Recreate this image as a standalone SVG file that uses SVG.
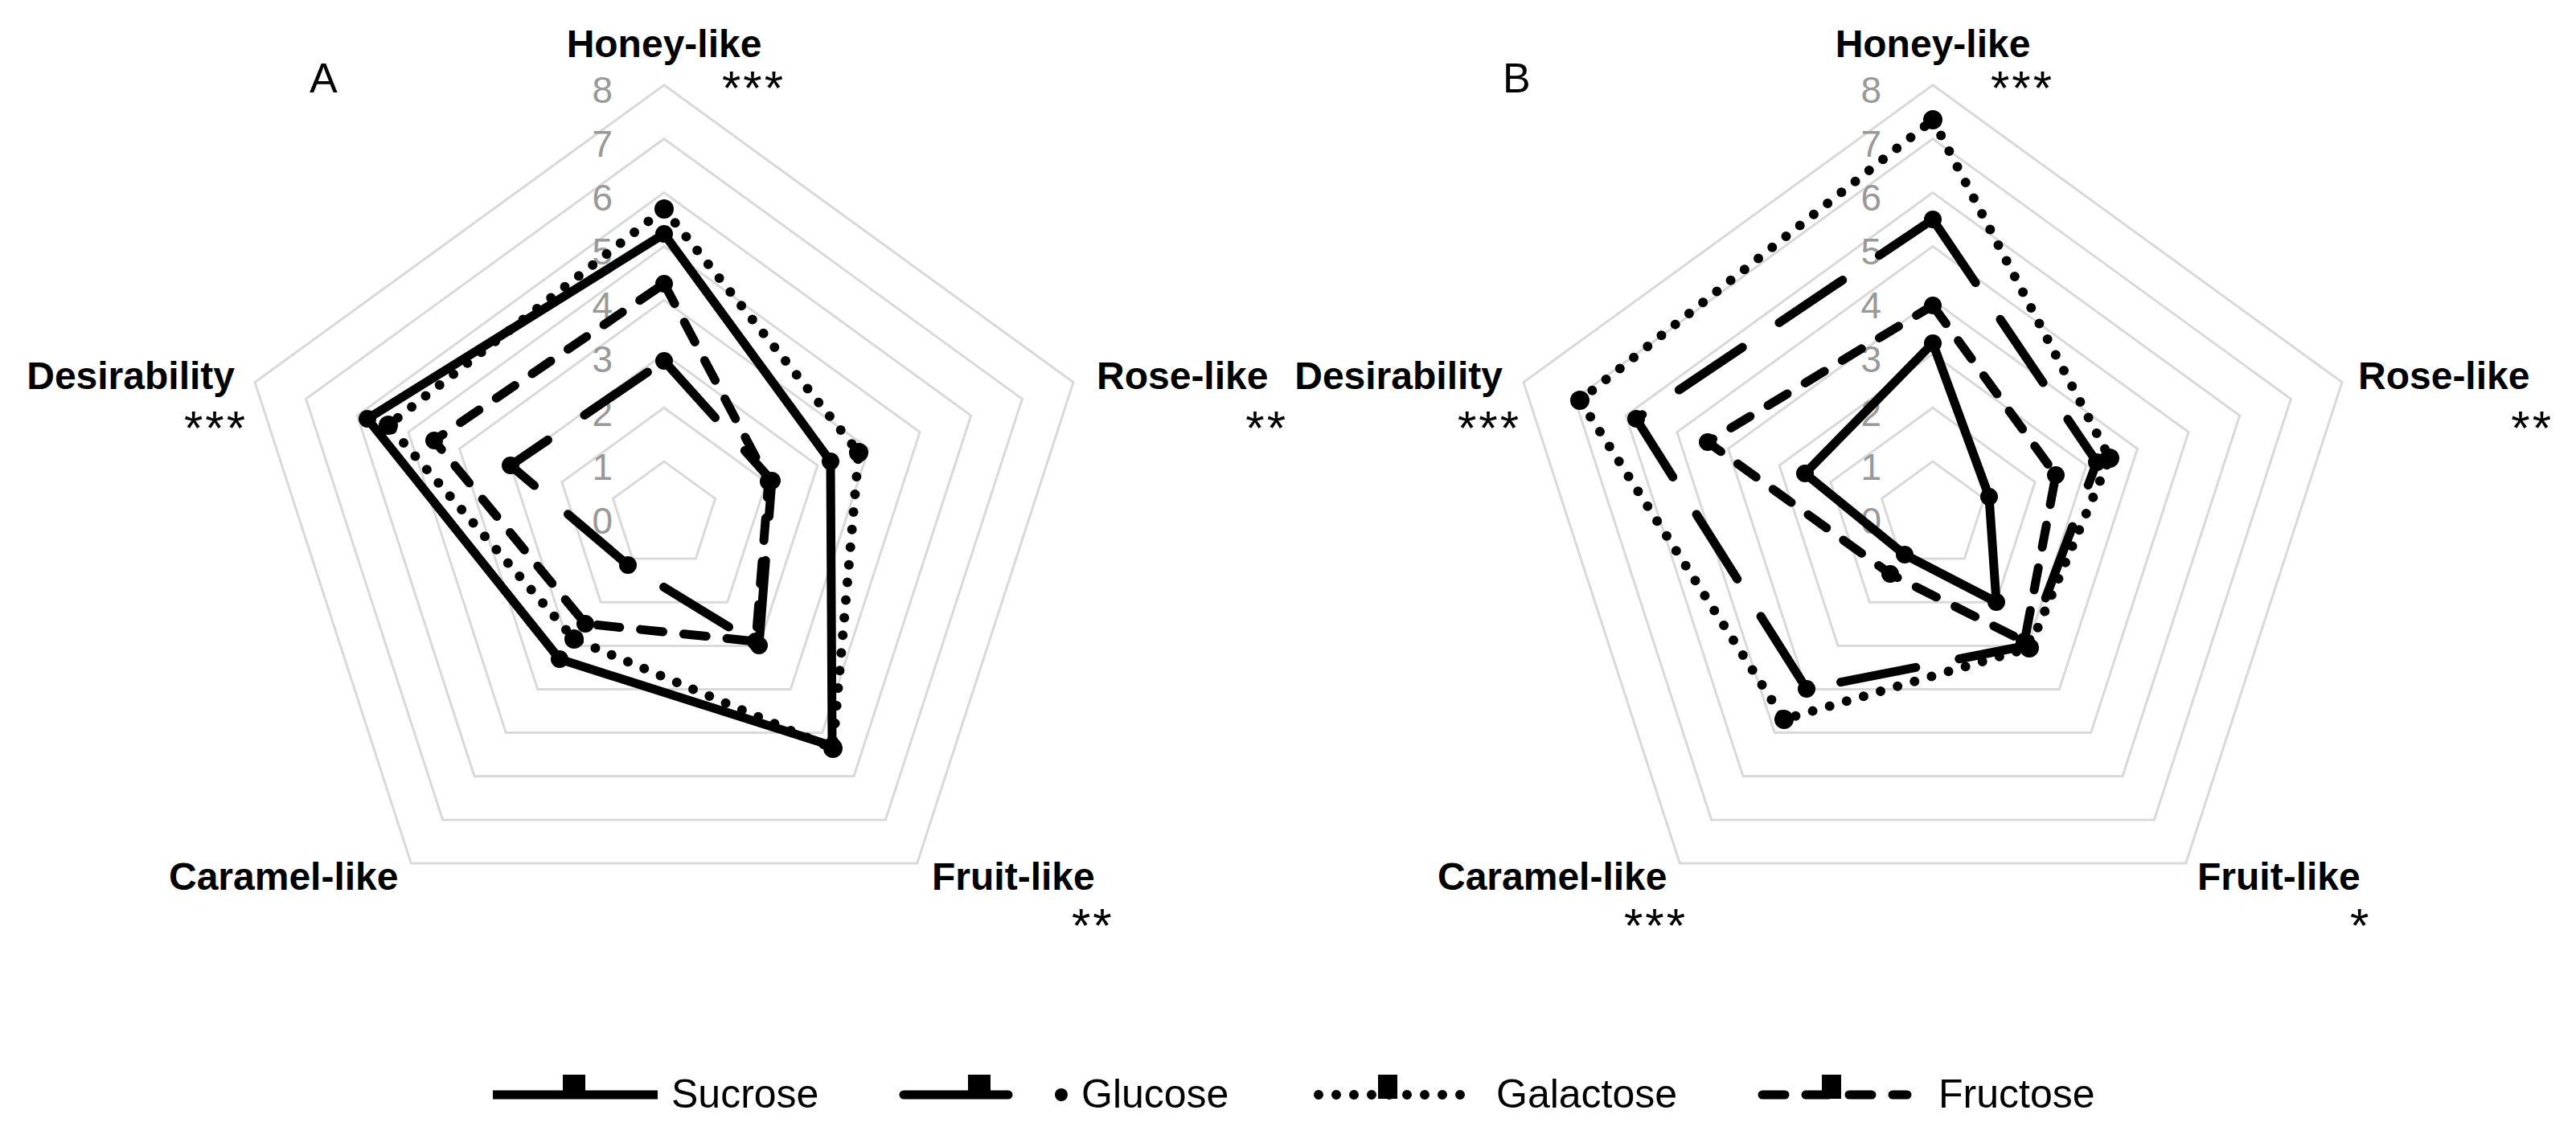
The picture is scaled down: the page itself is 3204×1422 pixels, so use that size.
<svg xmlns="http://www.w3.org/2000/svg" xmlns:xlink="http://www.w3.org/1999/xlink" width="3204" height="1422" viewBox="0 0 3204 1422">
<style>
.ring{fill:none;stroke:#d9d9d9;stroke-width:3}
.ax{font-family:"Liberation Sans",Arial,sans-serif;font-weight:bold;font-size:48px;fill:#000}
.st{font-family:"Liberation Sans",Arial,sans-serif;font-size:60px;fill:#000;letter-spacing:3px}
.sc{font-family:"Liberation Sans",Arial,sans-serif;font-size:46px;fill:#999;text-anchor:end}
.pl{font-family:"Liberation Sans",Arial,sans-serif;font-size:52px;fill:#000}
.lg{font-family:"Liberation Sans",Arial,sans-serif;font-size:50px;fill:#000}
.s{fill:none;stroke:#000;stroke-width:11;stroke-linejoin:round}
.suc{}
.glu{stroke-dasharray:95 55;stroke-linecap:round}
.gal{stroke-dasharray:0 22;stroke-linecap:round;stroke-width:12}
.fru{stroke-dasharray:28 26;stroke-linecap:round}
.m{fill:#000}
</style>
<defs>
<g id="rings">
<polygon class="ring" points="0,-66.9 63.6,-20.7 39.3,54.1 -39.3,54.1 -63.6,-20.7"/>
<polygon class="ring" points="0,-133.8 127.2,-41.3 78.7,108.2 -78.7,108.2 -127.2,-41.3"/>
<polygon class="ring" points="0,-200.7 190.9,-62 118,162.4 -118,162.4 -190.9,-62"/>
<polygon class="ring" points="0,-267.6 254.5,-82.7 157.3,216.5 -157.3,216.5 -254.5,-82.7"/>
<polygon class="ring" points="0,-334.5 318.1,-103.4 196.7,270.6 -196.7,270.6 -318.1,-103.4"/>
<polygon class="ring" points="0,-401.4 381.7,-124 236,324.7 -236,324.7 -381.7,-124"/>
<polygon class="ring" points="0,-468.3 445.4,-144.7 275.4,378.9 -275.4,378.9 -445.4,-144.7"/>
<polygon class="ring" points="0,-535.2 509,-165.4 314.7,433 -314.7,433 -509,-165.4"/>
</g>
<g id="scale">
<text class="sc" x="-64" y="-513">8</text>
<text class="sc" x="-64" y="-446">7</text>
<text class="sc" x="-64" y="-379">6</text>
<text class="sc" x="-64" y="-312">5</text>
<text class="sc" x="-64" y="-245">4</text>
<text class="sc" x="-64" y="-178">3</text>
<text class="sc" x="-64" y="-111">2</text>
<text class="sc" x="-64" y="-44">1</text>
<text class="sc" x="-64" y="23">0</text>
</g>
</defs>

<g id="chartA" transform="translate(826,641)">
<use xlink:href="#rings"/>
<use xlink:href="#scale"/>
</g>
<g id="chartB" transform="translate(2404,641)">
<use xlink:href="#rings"/>
<use xlink:href="#scale"/>
</g>

<g id="series">
<g transform="translate(826,641)">
<polygon class="s suc" points="0,-350 207,-67 209,287 -130,179 -369,-120"/>
<polygon class="s gal" points="0,-381 242,-78 210,290 -112,154 -343,-112"/>
<polygon class="s fru" points="0,-288 130,-42 114,157 -98,135 -286,-93"/>
<polygon class="s glu" points="0,-192 134,-43 118,162 -45,62 -191,-62"/>
<g class="m">
<circle cx="0" cy="-350" r="11"/><circle cx="207" cy="-67" r="11"/><circle cx="209" cy="287" r="11"/><circle cx="-130" cy="179" r="11"/><circle cx="-369" cy="-120" r="11"/>
<circle cx="0" cy="-381" r="12"/><circle cx="242" cy="-78" r="12"/><circle cx="210" cy="290" r="12"/><circle cx="-112" cy="154" r="12"/><circle cx="-343" cy="-112" r="12"/>
<circle cx="0" cy="-288" r="11"/><circle cx="130" cy="-42" r="11"/><circle cx="114" cy="157" r="11"/><circle cx="-98" cy="135" r="11"/><circle cx="-286" cy="-93" r="11"/>
<circle cx="0" cy="-192" r="11"/><circle cx="134" cy="-43" r="11"/><circle cx="118" cy="162" r="11"/><circle cx="-45" cy="62" r="11"/><circle cx="-191" cy="-62" r="11"/>
</g>
</g>
<g transform="translate(2404,641)">
<polygon class="s suc" points="0,-214 70,-23 79,108 -35,49 -159,-52"/>
<polygon class="s gal" points="0,-492 220,-71 120,165 -185,254 -439,-143"/>
<polygon class="s glu" points="0,-368 204,-66 118,162 -157,216 -369,-120"/>
<polygon class="s fru" points="0,-261 153,-50 114,157 -53,73 -280,-91"/>
<g class="m">
<circle cx="0" cy="-214" r="11"/><circle cx="70" cy="-23" r="11"/><circle cx="79" cy="108" r="11"/><circle cx="-35" cy="49" r="11"/><circle cx="-159" cy="-52" r="11"/>
<circle cx="0" cy="-492" r="12"/><circle cx="220" cy="-71" r="12"/><circle cx="120" cy="165" r="12"/><circle cx="-185" cy="254" r="12"/><circle cx="-439" cy="-143" r="12"/>
<circle cx="0" cy="-368" r="11"/><circle cx="204" cy="-66" r="11"/><circle cx="118" cy="162" r="11"/><circle cx="-157" cy="216" r="11"/><circle cx="-369" cy="-120" r="11"/>
<circle cx="0" cy="-261" r="11"/><circle cx="153" cy="-50" r="11"/><circle cx="114" cy="157" r="11"/><circle cx="-53" cy="73" r="11"/><circle cx="-280" cy="-91" r="11"/>
</g>
</g>
</g>

<g id="labelsA">
<text class="pl" x="385" y="115">A</text>
<text class="ax" x="826" y="71" text-anchor="middle">Honey-like</text>
<text class="st" x="898" y="130">***</text>
<text class="ax" x="292" y="484" text-anchor="end">Desirability</text>
<text class="st" x="308" y="553" text-anchor="end">***</text>
<text class="ax" x="1364" y="484">Rose-like</text>
<text class="st" x="1602" y="553" text-anchor="end">**</text>
<text class="ax" x="210" y="1107">Caramel-like</text>
<text class="ax" x="1159" y="1107">Fruit-like</text>
<text class="st" x="1333" y="1172">**</text>
</g>
<g id="labelsB">
<text class="pl" x="1869" y="115">B</text>
<text class="ax" x="2404" y="71" text-anchor="middle">Honey-like</text>
<text class="st" x="2476" y="130">***</text>
<text class="ax" x="1869" y="484" text-anchor="end">Desirability</text>
<text class="st" x="1892" y="553" text-anchor="end">***</text>
<text class="ax" x="2933" y="484">Rose-like</text>
<text class="st" x="3176" y="553" text-anchor="end">**</text>
<text class="ax" x="1788" y="1107">Caramel-like</text>
<text class="st" x="2020" y="1172">***</text>
<text class="ax" x="2733" y="1107">Fruit-like</text>
<text class="st" x="2923" y="1172">*</text>
</g>

<g id="legend">
<line class="s" x1="613" y1="1362" x2="818" y2="1362" stroke-width="16"/>
<rect class="m" x="700" y="1337" width="28" height="30"/>
<text class="lg" x="835" y="1378">Sucrose</text>
<line class="s" x1="1124" y1="1362" x2="1254" y2="1362" stroke-width="16" stroke-linecap="round"/>
<rect class="m" x="1204" y="1337" width="28" height="30"/>
<circle class="m" cx="1320" cy="1362" r="8"/>
<text class="lg" x="1345" y="1378">Glucose</text>
<line class="s gal" x1="1640" y1="1362" x2="1818" y2="1362" stroke-width="14"/>
<rect class="m" x="1714" y="1337" width="24" height="30"/>
<text class="lg" x="1861" y="1378">Galactose</text>
<line class="s fru" x1="2192" y1="1362" x2="2372" y2="1362" stroke-width="16" stroke-dasharray="26 40"/>
<rect class="m" x="2266" y="1337" width="24" height="30"/>
<text class="lg" x="2411" y="1378">Fructose</text>
</g>
</svg>
